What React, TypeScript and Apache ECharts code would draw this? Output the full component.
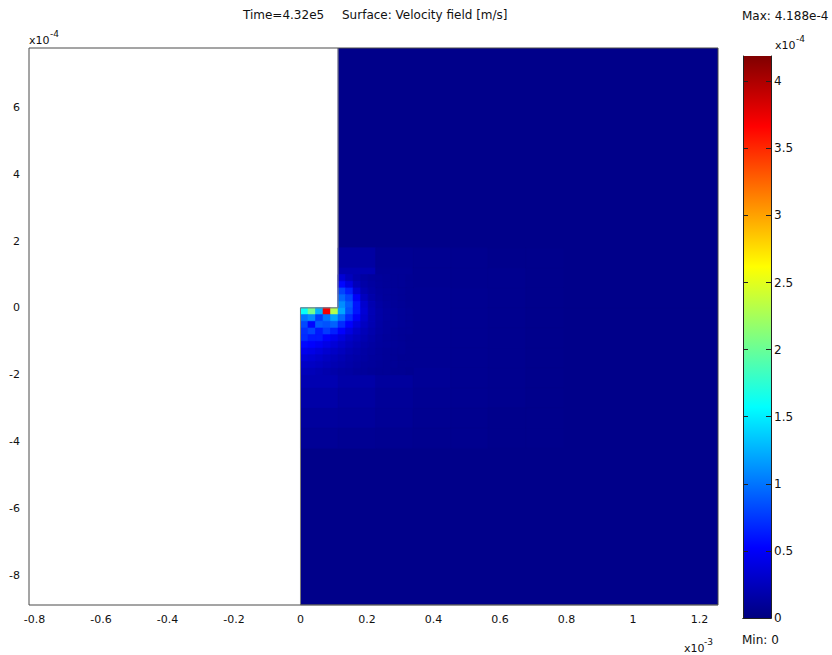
import React, { useEffect, useRef } from "react";
import * as echarts from "echarts";

// Axis ranges (x in 1e-3 m, y in 1e-4 m)
const X_RANGE = [-0.8165, 1.2556];
const Y_RANGE = [-8.89, 7.78];
const X_TICKS = [-0.8, -0.6, -0.4, -0.2, 0, 0.2, 0.4, 0.6, 0.8, 1, 1.2];
const Y_TICKS = [-8, -6, -4, -2, 0, 2, 4, 6];
const CBAR_TICKS = [0, 0.5, 1, 1.5, 2, 2.5, 3, 3.5, 4];

// Velocity magnitude range (1e-4 m/s)
const FIELD_MIN = 0;
const FIELD_MAX = 4.188;

// Step corner of the L-shaped domain
const STEP_X = 0.113;

// Far-field speed over the whole domain
const BACKGROUND_SPEED = 0.04;

// Fine cells around the re-entrant corner: x from 0 in 0.0226 steps,
// rows from y = 1.0 downward in 0.2 steps (null = outside the domain)
const NEAR_X0 = 0;
const NEAR_Y_TOP = 1.0;
const NEAR_DX = 0.0226;
const NEAR_DY = 0.2;
const NEAR_CORNER_SPEED: (number | null)[][] = [
  [null, null, null, null, null, 0.35, 0.25, 0.18, 0.14, 0.12, 0.11, 0.1, 0.09, 0.09, 0.08],
  [null, null, null, null, null, 0.55, 0.4, 0.24, 0.16, 0.13, 0.11, 0.1, 0.09, 0.09, 0.08],
  [null, null, null, null, null, 0.8, 0.65, 0.35, 0.2, 0.15, 0.12, 0.11, 0.1, 0.09, 0.08],
  [null, null, null, null, null, 0.95, 0.8, 0.5, 0.26, 0.17, 0.13, 0.11, 0.1, 0.09, 0.08],
  [null, null, null, null, null, 1.1, 0.9, 0.6, 0.32, 0.2, 0.15, 0.12, 0.1, 0.09, 0.08],
  [1.6, 2.05, 1.25, 3.7, 2.3, 1.2, 0.85, 0.6, 0.35, 0.22, 0.16, 0.13, 0.11, 0.1, 0.09],
  [1.0, 1.1, 0.78, 1.0, 1.2, 0.95, 0.7, 0.5, 0.32, 0.21, 0.16, 0.13, 0.11, 0.1, 0.09],
  [0.82, 0.55, 0.9, 0.86, 0.92, 0.7, 0.52, 0.38, 0.27, 0.2, 0.15, 0.12, 0.11, 0.1, 0.09],
  [0.72, 0.8, 0.62, 0.76, 0.65, 0.52, 0.4, 0.3, 0.23, 0.18, 0.14, 0.12, 0.1, 0.09, 0.09],
  [0.7, 0.62, 0.62, 0.52, 0.45, 0.38, 0.3, 0.25, 0.2, 0.16, 0.13, 0.11, 0.1, 0.09, 0.08],
  [0.55, 0.52, 0.48, 0.42, 0.36, 0.3, 0.25, 0.21, 0.17, 0.14, 0.12, 0.11, 0.1, 0.09, 0.08],
  [0.45, 0.42, 0.38, 0.33, 0.29, 0.25, 0.21, 0.18, 0.15, 0.13, 0.11, 0.1, 0.09, 0.09, 0.08],
  [0.36, 0.34, 0.31, 0.27, 0.24, 0.21, 0.18, 0.16, 0.14, 0.12, 0.11, 0.1, 0.09, 0.08, 0.08],
  [0.29, 0.28, 0.26, 0.23, 0.2, 0.18, 0.16, 0.14, 0.12, 0.11, 0.1, 0.09, 0.09, 0.08, 0.08],
  [0.24, 0.23, 0.21, 0.19, 0.17, 0.15, 0.14, 0.12, 0.11, 0.1, 0.09, 0.09, 0.08, 0.08, 0.07],
];

// Coarser halo cells: x from 0 in 0.113 steps, rows from y = 1.8 downward in 0.6 steps
const HALO_X0 = 0;
const HALO_Y_TOP = 1.8;
const HALO_DX = 0.113;
const HALO_DY = 0.6;
const HALO_SPEED: (number | null)[][] = [
  [null, 0.14, 0.08, 0.07, 0.06, 0.05, 0.05],
  [null, 0.2, 0.09, 0.07, 0.06, 0.06, 0.05],
  [null, 0.5, 0.12, 0.08, 0.07, 0.06, 0.05],
  [1.0, 0.6, 0.14, 0.08, 0.07, 0.06, 0.05],
  [0.6, 0.4, 0.13, 0.08, 0.07, 0.06, 0.05],
  [0.38, 0.27, 0.12, 0.08, 0.07, 0.06, 0.05],
  [0.2, 0.16, 0.12, 0.09, 0.07, 0.06, 0.05],
  [0.16, 0.13, 0.1, 0.08, 0.07, 0.06, 0.05],
  [0.12, 0.11, 0.09, 0.07, 0.06, 0.05, 0.05],
  [0.09, 0.08, 0.07, 0.06, 0.06, 0.05, 0.05],
];

// Jet colour map
const JET = [
  "#000080", "#0000ff", "#0080ff", "#00ffff", "#80ff80",
  "#ffff00", "#ff8000", "#ff0000", "#800000",
];

const FONT = "DejaVu Sans";
const TEXT_COLOR = "#111";

type Cell = [number, number, number, number, number];

function cellsFrom(
  grid: (number | null)[][],
  x0: number,
  yTop: number,
  dx: number,
  dy: number
): Cell[] {
  const out: Cell[] = [];
  grid.forEach((row, r) => {
    row.forEach((v, c) => {
      if (v == null) return;
      out.push([x0 + c * dx, yTop - (r + 1) * dy, x0 + (c + 1) * dx, yTop - r * dy, v]);
    });
  });
  return out;
}

function buildOption() {
  const backgroundCells: Cell[] = [
    [0, Y_RANGE[0], X_RANGE[1], 0, BACKGROUND_SPEED],
    [STEP_X, 0, X_RANGE[1], Y_RANGE[1], BACKGROUND_SPEED],
  ];
  const fieldCells: Cell[] = [
    ...backgroundCells,
    ...cellsFrom(HALO_SPEED, HALO_X0, HALO_Y_TOP, HALO_DX, HALO_DY),
    ...cellsFrom(NEAR_CORNER_SPEED, NEAR_X0, NEAR_Y_TOP, NEAR_DX, NEAR_DY),
  ];

  const outline = [
    [STEP_X, Y_RANGE[1]],
    [STEP_X, 0],
    [0, 0],
    [0, Y_RANGE[0]],
    [X_RANGE[1], Y_RANGE[0]],
  ];

  const axisLabelStyle = { fontFamily: FONT, fontSize: 11, color: TEXT_COLOR };
  const frameLine = { show: true, lineStyle: { color: "#222", width: 1 } };

  const text = (t: string, x: number, y: number, size = 12, align = "left") => ({
    type: "text",
    x,
    y,
    silent: true,
    style: {
      text: t,
      fill: TEXT_COLOR,
      fontFamily: FONT,
      fontSize: size,
      align,
      verticalAlign: "middle",
    },
  });

  return {
    animation: false,
    backgroundColor: "#ffffff",
    grid: [
      {
        left: 29,
        top: 48,
        width: 689,
        height: 557,
        show: true,
        borderColor: "#4a4a4a",
        borderWidth: 1,
        backgroundColor: "transparent",
        z: 10,
      },
      { left: 743, top: 56, width: 28, height: 562 },
    ],
    xAxis: [
      {
        gridIndex: 0,
        type: "value",
        min: X_RANGE[0],
        max: X_RANGE[1],
        axisLine: { show: false },
        axisTick: { show: false },
        splitLine: { show: false },
        axisLabel: { ...axisLabelStyle, margin: 9, customValues: X_TICKS },
      },
      {
        gridIndex: 1,
        type: "category",
        data: ["bar"],
        position: "bottom",
        axisLine: frameLine,
        axisTick: { show: false },
        axisLabel: { show: false },
        z: 5,
      },
      {
        gridIndex: 1,
        type: "category",
        data: ["bar"],
        position: "top",
        axisLine: frameLine,
        axisTick: { show: false },
        axisLabel: { show: false },
        z: 5,
      },
    ],
    yAxis: [
      {
        gridIndex: 0,
        type: "value",
        min: Y_RANGE[0],
        max: Y_RANGE[1],
        axisLine: { show: false },
        axisTick: { show: false },
        splitLine: { show: false },
        axisLabel: { ...axisLabelStyle, margin: 9, customValues: Y_TICKS },
      },
      {
        gridIndex: 1,
        type: "value",
        min: FIELD_MIN,
        max: FIELD_MAX,
        position: "right",
        axisLine: frameLine,
        axisTick: {
          show: true,
          inside: true,
          length: 5,
          lineStyle: { color: "#222" },
          customValues: CBAR_TICKS,
        },
        splitLine: { show: false },
        axisLabel: { ...axisLabelStyle, fontSize: 12, margin: 3, customValues: CBAR_TICKS },
        z: 5,
      },
      {
        gridIndex: 1,
        type: "value",
        min: FIELD_MIN,
        max: FIELD_MAX,
        position: "left",
        axisLine: frameLine,
        axisTick: {
          show: true,
          inside: true,
          length: 5,
          lineStyle: { color: "#222" },
          customValues: CBAR_TICKS,
        },
        splitLine: { show: false },
        axisLabel: { show: false },
        z: 5,
      },
    ],
    visualMap: {
      type: "continuous",
      show: false,
      min: FIELD_MIN,
      max: FIELD_MAX,
      dimension: 4,
      seriesIndex: 0,
      inRange: { color: JET },
    },
    series: [
      {
        type: "custom",
        name: "Velocity field",
        xAxisIndex: 0,
        yAxisIndex: 0,
        clip: true,
        silent: true,
        dimensions: ["x0", "y0", "x1", "y1", "speed"],
        encode: { x: [0, 2], y: [1, 3] },
        data: fieldCells,
        renderItem: (_params: any, api: any) => {
          const a = api.coord([api.value(0), api.value(3)]);
          const b = api.coord([api.value(2), api.value(1)]);
          const color = api.visual("color");
          return {
            type: "rect",
            shape: { x: a[0], y: a[1], width: b[0] - a[0], height: b[1] - a[1] },
            style: { fill: color, stroke: color, lineWidth: 0.6 },
          };
        },
        z: 1,
      },
      {
        type: "line",
        name: "Boundary",
        xAxisIndex: 0,
        yAxisIndex: 0,
        data: outline,
        symbol: "none",
        silent: true,
        lineStyle: { color: "#7c7c7c", width: 1 },
        z: 3,
      },
      {
        type: "bar",
        name: "Colour scale",
        xAxisIndex: 1,
        yAxisIndex: 1,
        data: [FIELD_MAX],
        barWidth: "100%",
        silent: true,
        itemStyle: {
          color: new echarts.graphic.LinearGradient(
            0,
            1,
            0,
            0,
            JET.map((c, i) => ({ offset: i / (JET.length - 1), color: c }))
          ),
        },
        z: 1,
      },
    ],
    graphic: [
      text("Time=4.32e5", 243, 15),
      text("Surface: Velocity field [m/s]", 342, 15),
      text("Max: 4.188e-4", 742, 16),
      text("x10", 29, 40, 11),
      text("-4", 50, 34, 9),
      text("x10", 775, 45, 11),
      text("-4", 796, 39, 9),
      text("x10", 684, 648, 11),
      text("-3", 704, 642, 9),
      text("Min: 0", 742, 640),
    ],
  };
}

export default function App() {
  const ref = useRef<HTMLDivElement>(null);
  useEffect(() => {
    if (!ref.current) return;
    const chart = echarts.init(ref.current, null, { renderer: "svg" });
    chart.setOption(buildOption() as any);
    return () => chart.dispose();
  }, []);
  return (
    <div
      ref={ref}
      style={{ position: "absolute", left: 0, top: 0, width: 832, height: 655 }}
    />
  );
}
